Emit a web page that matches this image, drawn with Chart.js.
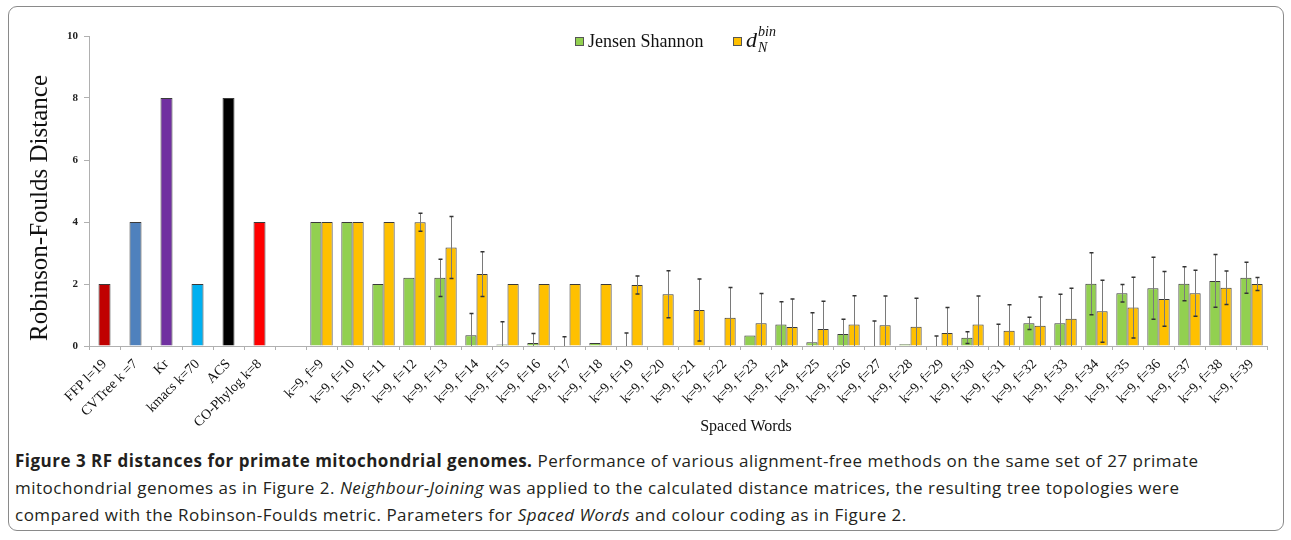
<!DOCTYPE html>
<html>
<head>
<meta charset="utf-8">
<script src="https://cdn.jsdelivr.net/npm/chart.js@4.4.0/dist/chart.umd.min.js"></script>
<style>
  body { margin: 0; background: #fff; width: 1291px; height: 540px; position: relative; overflow: hidden; }
  #frame { position: absolute; left: 8px; top: 6px; width: 1274px; height: 523px; border: 1px solid #8a8a8a; border-radius: 9px; }
  #wrap { position: absolute; left: 0; top: 0; width: 1291px; height: 440px; }
  #cap { position: absolute; left: 15px; top: 447px; font-family: "Open Sans", sans-serif; font-size: 17px; line-height: 27px; color: #231f20; letter-spacing: 0.5px; white-space: nowrap; }
</style>
</head>
<body>
<div id="frame"></div>
<div id="wrap"><canvas id="rf"></canvas></div>
<div id="cap"><b>Figure 3 RF distances for primate mitochondrial genomes.</b> Performance of various alignment-free methods on the same set of 27 primate<br>mitochondrial genomes as in Figure 2. <i>Neighbour-Joining</i> was applied to the calculated distance matrices, the resulting tree topologies were<br>compared with the Robinson-Foulds metric. Parameters for <i>Spaced Words</i> and colour coding as in Figure 2.</div>
<script>
// other alignment-free methods (single bars)
const methodLabels = ["FFP l=19", "CVTree k =7", "Kr", "kmacs k=70", "ACS", "CO-Phylog k=8"];
const methodValues = [2, 4, 8, 2, 8, 4];
const methodColors = ["#c00000", "#4f81bd", "#7030a0", "#00b0f0", "#000000", "#ff0000"];

// Spaced Words, k=9, f=9..39
const spacedLabels = [
  "k=9, f=9", "k=9, f=10", "k=9, f=11", "k=9, f=12", "k=9, f=13", "k=9, f=14", "k=9, f=15", "k=9, f=16",
  "k=9, f=17", "k=9, f=18", "k=9, f=19", "k=9, f=20", "k=9, f=21", "k=9, f=22", "k=9, f=23", "k=9, f=24",
  "k=9, f=25", "k=9, f=26", "k=9, f=27", "k=9, f=28", "k=9, f=29", "k=9, f=30", "k=9, f=31", "k=9, f=32",
  "k=9, f=33", "k=9, f=34", "k=9, f=35", "k=9, f=36", "k=9, f=37", "k=9, f=38", "k=9, f=39"
];
const jsValues = [4, 4, 2, 2.2, 2.2, 0.35, 0.05, 0.1, 0, 0.1, 0, 0, 0, 0, 0.34, 0.69,
  0.12, 0.39, 0, 0.06, 0, 0.27, 0, 0.73, 0.73, 2.01, 1.7, 1.86, 2.01, 2.1, 2.2];
const jsErrors = [0, 0, 0, 0, 0.6, 0.7, 0.73, 0.3, 0.3, 0, 0.42, 0, 0, 0, 0, 0.74,
  0.95, 0.47, 0.81, 0, 0.32, 0.19, 0.7, 0.2, 0.94, 1.0, 0.28, 1.0, 0.55, 0.85, 0.5];
const dnValues = [4, 4, 4, 3.99, 3.18, 2.32, 2, 2, 2, 2, 1.97, 1.67, 1.16, 0.91, 0.73, 0.61,
  0.55, 0.69, 0.67, 0.62, 0.42, 0.69, 0.49, 0.65, 0.88, 1.12, 1.24, 1.52, 1.7, 1.88, 2.0];
const dnErrors = [0, 0, 0, 0.29, 1.0, 0.72, 0, 0, 0, 0, 0.29, 0.76, 1.0, 0.98, 0.96, 0.91,
  0.89, 0.93, 0.94, 0.92, 0.82, 0.92, 0.84, 0.93, 0.98, 1.0, 0.98, 0.88, 0.74, 0.54, 0.21];

const yTicks = [0, 2, 4, 6, 8, 10];

// the first 6 slots + one empty gap column hold no Spaced Words bars
const gap = [null, null, null, null, null, null, null];
const labels = methodLabels.concat([""], spacedLabels);

const serif = "'Liberation Serif', 'DejaVu Serif', serif";

const errorBars = {
  id: "errorBars",
  afterDatasetsDraw(chart) {
    const { ctx, chartArea, scales: { y } } = chart;
    ctx.save();
    ctx.beginPath();
    ctx.rect(chartArea.left, chartArea.top - 10, chartArea.width, chartArea.height + 10);
    ctx.clip();
    chart.data.datasets.forEach((ds, di) => {
      if (!ds.errors) return;
      chart.getDatasetMeta(di).data.forEach((bar, i) => {
        const v = ds.data[i], e = ds.errors[i];
        if (v == null || !e) return;
        const top = y.getPixelForValue(v + e);
        const bot = y.getPixelForValue(v - e);
        const x = Math.round(bar.x) + 0.5;
        ctx.strokeStyle = "#7a7a7a";
        ctx.lineWidth = 1;
        ctx.beginPath();
        ctx.moveTo(x, top);
        ctx.lineTo(x, bot);
        ctx.stroke();
        ctx.strokeStyle = "#333";
        ctx.lineWidth = 1.5;
        ctx.beginPath();
        ctx.moveTo(x - 2, top); ctx.lineTo(x + 2, top);
        ctx.moveTo(x - 2, bot); ctx.lineTo(x + 2, bot);
        ctx.stroke();
      });
    });
    ctx.restore();
  }
};

const decorations = {
  id: "decorations",
  afterDraw(chart) {
    const { ctx, chartArea } = chart;
    const cx = (chartArea.left + chartArea.right) / 2;
    ctx.save();
    ctx.fillStyle = "#111";

    // y axis title
    ctx.save();
    ctx.translate(40, 208);
    ctx.rotate(-Math.PI / 2);
    ctx.font = "25px " + serif;
    ctx.textAlign = "center";
    ctx.textBaseline = "middle";
    ctx.fillText("Robinson-Foulds Distance", 0, 0);
    ctx.restore();

    // x axis title
    ctx.font = "16px " + serif;
    ctx.textAlign = "center";
    ctx.textBaseline = "alphabetic";
    ctx.fillText("Spaced Words", cx + 68, 431);

    // legend
    let x = cx - 103;
    const by = 37;
    ctx.lineWidth = 1;
    ctx.strokeStyle = "#555";
    ctx.fillStyle = "#92d050";
    ctx.fillRect(x, by, 8, 8);
    ctx.strokeRect(x + 0.5, by + 0.5, 8, 8);
    ctx.fillStyle = "#111";
    ctx.font = "18px " + serif;
    ctx.textAlign = "left";
    ctx.fillText("Jensen Shannon", x + 13, 47);
    x += 158;
    ctx.fillStyle = "#ffc000";
    ctx.fillRect(x, by, 8, 8);
    ctx.strokeRect(x + 0.5, by + 0.5, 8, 8);
    ctx.fillStyle = "#111";
    ctx.font = "italic 22px " + serif;
    ctx.fillText("d", x + 13, 47);
    ctx.font = "italic 14px " + serif;
    ctx.fillText("bin", x + 25, 36);
    ctx.fillText("N", x + 25, 52);
    ctx.restore();
  }
};

new Chart(document.getElementById("rf"), {
  type: "bar",
  data: {
    labels: labels,
    datasets: [
      {
        label: "methods",
        data: methodValues,
        backgroundColor: methodColors,
        borderColor: "#3a3a3a",
        borderWidth: 1,
        grouped: false,
        maxBarThickness: 12
      },
      {
        label: "Jensen Shannon",
        data: gap.concat(jsValues),
        errors: gap.concat(jsErrors),
        backgroundColor: "#92d050",
        borderColor: "#3a3a3a",
        borderWidth: 1,
        categoryPercentage: 0.72,
        barPercentage: 1.0
      },
      {
        label: "d_N^bin",
        data: gap.concat(dnValues),
        errors: gap.concat(dnErrors),
        backgroundColor: "#ffc000",
        borderColor: "#3a3a3a",
        borderWidth: 1,
        categoryPercentage: 0.72,
        barPercentage: 1.0
      }
    ]
  },
  options: {
    responsive: true,
    maintainAspectRatio: false,
    animation: false,
    layout: { padding: { left: 20, right: 24, top: 36, bottom: 0 } },
    plugins: {
      legend: { display: false },
      tooltip: { enabled: false }
    },
    scales: {
      x: {
        afterFit: s => { s.height = 94; },
        grid: { drawOnChartArea: false, color: "#b0b0b0", tickLength: 4, offset: true },
        border: { color: "#b0b0b0" },
        ticks: {
          autoSkip: false,
          minRotation: 45,
          maxRotation: 45,
          padding: 6,
          color: "#111",
          font: { family: serif, size: 14 }
        }
      },
      y: {
        min: 0,
        max: 10,
        afterFit: s => { s.width = 69; },
        afterBuildTicks: s => { s.ticks = yTicks.map(v => ({ value: v })); },
        grid: { drawOnChartArea: false, color: "#b0b0b0", tickLength: 5 },
        border: { color: "#b0b0b0" },
        ticks: {
          padding: 6,
          color: "#222",
          font: { family: serif, size: 11, weight: "bold" }
        }
      }
    }
  },
  plugins: [errorBars, decorations]
});
</script>
</body>
</html>
